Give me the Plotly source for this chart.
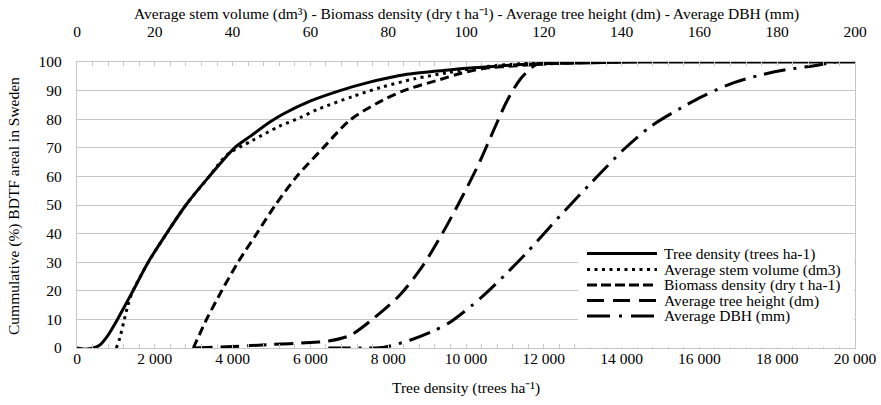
import plotly.graph_objects as go

# ---------------- data ----------------
# Tree density on bottom axis (trees ha-1)
td_x = [0, 200, 420, 600, 800, 1000, 1200, 1440, 1830, 2300, 2800, 3400, 4050, 4450,
        4960, 5300, 5990, 6760, 7450, 8480, 9680, 10450, 11300, 12160, 13500, 15000, 20000]
td_y = [0, -0.4, 0, 1.2, 4.5, 9, 14, 20, 30, 40, 50, 60, 70, 74,
        79, 81.8, 86.3, 90, 92.7, 95.7, 97.4, 98.2, 99, 99.5, 99.8, 100, 100]

# Average stem volume (dm3) on top axis
sv_x = [10.1, 11.0, 12.0, 13.0, 14.2, 15.5, 18.3, 23.0, 28.0, 34.0, 38.5, 45.0, 52.0,
        57.3, 62.0, 71.0, 78.3, 87.0, 95.5, 104.5, 113.0, 125.0, 140.0]
sv_y = [0, 3.5, 9, 14.5, 19.5, 23, 30, 40, 50, 60, 67.5, 72.5, 77.5,
        80.5, 83.5, 88, 91.2, 94.2, 96.3, 98.3, 99.3, 99.8, 100]

# Biomass density (dry t ha-1) on top axis
bd_x = [29.9, 33.3, 37.2, 41.4, 46.2, 51.0, 56.5, 63.3, 70.0, 77.0, 84.0, 93.4,
        98.5, 104.5, 113.0, 121.6, 135.0]
bd_y = [0, 10, 20, 30, 40, 50, 60, 70, 79.5, 85.5, 90, 93.9,
        96, 97.7, 98.7, 99.4, 100]

# Average tree height (dm) on top axis
th_x = [29.9, 40.0, 49.6, 60.0, 65.0, 70.2, 76.2, 83.0, 89.0, 94.2, 99.3, 103.6,
        107.0, 110.5, 113.9, 117.4, 119.5]
th_y = [0, 0.5, 1.2, 1.9, 2.5, 4.4, 10.3, 18.5, 29, 40.7, 53.6, 65.3,
        75.8, 86.3, 93.9, 98.6, 100]

# Average DBH (mm) on top axis
dbh_x = [64.6, 75.0, 79.0, 85.6, 91.2, 95.9, 103.8, 110.0, 115.4, 121.7, 125.4, 132.0,
         135.9, 140.6, 147.5, 156.0, 160.8, 168.9, 175.3, 181.8, 190.4, 193.0, 195.0]
dbh_y = [0, 0, 0.3, 2.7, 5.7, 9, 17.5, 25.5, 33, 42.5, 48, 57.5,
         63, 69.5, 77.5, 84.5, 88, 92.8, 95.3, 97.2, 98.9, 99.6, 100]

bottom_ticks = [0, 2000, 4000, 6000, 8000, 10000, 12000, 14000, 16000, 18000, 20000]
bottom_labels = ["0", "2 000", "4 000", "6 000", "8 000", "10 000", "12 000",
                 "14 000", "16 000", "18 000", "20 000"]
top_ticks = [0, 20, 40, 60, 80, 100, 120, 140, 160, 180, 200]
y_ticks = [0, 10, 20, 30, 40, 50, 60, 70, 80, 90, 100]

names = ["Tree density (trees ha-1)", "Average stem volume (dm3)",
         "Biomass density (dry t ha-1)", "Average tree height (dm)", "Average DBH (mm)"]

# ---------------- styles ----------------
FONT = "Liberation Serif"
FS = 15.5
GRID = "#c6c6c6"
dashes = ["solid", "3px,4.5px", "9px,5px", "19px,8px", "22px,8px,3px,8px"]
leg_dashes = ["solid", "3px,4.5px", "10px,4px", "17px,9px", "23px,9px,3px,9px"]

# plot area on screen (pixels); body margin is removed after rendering
W, H = 881, 405
SL, ST, SR, SB = 77, 62, 855, 348
L, T, R, B = SL, ST, W - SR, H - SB
PW, PH = SR - SL, SB - ST


def px(xp):
    return (xp - SL) / PW


def py(yp):
    return (SB - yp) / PH


fig = go.Figure()
series = [(td_x, td_y, "x"), (sv_x, sv_y, "x2"), (bd_x, bd_y, "x2"),
          (th_x, th_y, "x2"), (dbh_x, dbh_y, "x2")]
for i, (xs, ys, ax) in enumerate(series):
    fig.add_trace(go.Scatter(
        x=xs, y=ys, xaxis=ax, yaxis="y", mode="lines", name=names[i],
        line=dict(color="black", width=3, dash=dashes[i], shape="spline", smoothing=0.8),
        showlegend=False, hoverinfo="skip"))

fig.update_layout(
    width=W, height=H, margin=dict(l=L, r=R, t=T, b=B, autoexpand=False),
    paper_bgcolor="white", plot_bgcolor="white",
    font=dict(family=FONT, size=FS, color="black"),
    showlegend=False,
    xaxis=dict(range=[0, 20000], tickvals=bottom_ticks, ticktext=bottom_labels,
               automargin=False,
               showgrid=False, zeroline=False, showline=True, linecolor=GRID, linewidth=1.3,
               ticks="inside", ticklen=4, tickcolor=GRID, tickwidth=1,
               minor=dict(dtick=400, tick0=0, ticks="inside", ticklen=4, tickcolor=GRID, showgrid=False),
               ticklabelstandoff=-4, tickfont=dict(family=FONT, size=FS)),
    xaxis2=dict(range=[0, 200], overlaying="x", side="top", anchor="y",
                tickvals=top_ticks, ticktext=[str(t) for t in top_ticks],
                automargin=False,
                showgrid=False, zeroline=False, showline=True, linecolor=GRID, linewidth=1.3,
                ticks="inside", ticklen=4, tickcolor=GRID, tickwidth=1,
                minor=dict(dtick=4, tick0=0, ticks="inside", ticklen=4, tickcolor=GRID, showgrid=False),
                ticklabelstandoff=18, tickfont=dict(family=FONT, size=FS)),
    yaxis=dict(range=[0, 100], tickvals=y_ticks, ticktext=[str(t) for t in y_ticks],
               automargin=False,
               showgrid=True, gridcolor=GRID, gridwidth=1.3, zeroline=False,
               showline=True, linecolor=GRID, linewidth=1.3, mirror=True,
               ticks="outside", ticklen=7, tickcolor="rgba(0,0,0,0)",
               ticksuffix="\u00a0\u00a0", ticklabelstandoff=4,
               tickfont=dict(family=FONT, size=FS)),
)

ann = [
    dict(text="Average stem volume (dm\u00b3) - Biomass density (dry t ha\u207b\u00b9) - "
              "Average tree height (dm) - Average DBH (mm)",
         x=px(466), y=py(14), xanchor="center", yanchor="middle"),
    dict(text="Tree density (trees ha\u207b\u00b9)", x=px(466), y=py(388),
         xanchor="center", yanchor="middle"),
    dict(text="Cummulative (%) BDTF areal in Sweden", x=px(14), y=py(206), textangle=-90,
         xanchor="center", yanchor="middle"),
]

shapes = [dict(type="rect", xref="paper", yref="paper", x0=px(578), x1=px(854),
               y0=py(347), y1=py(242), fillcolor="white", line=dict(width=0), layer="above")]
rows = [253.5, 269.5, 285, 300.5, 316]
for i, name in enumerate(names):
    shapes.append(dict(type="line", xref="paper", yref="paper", x0=px(587), x1=px(657),
                       y0=py(rows[i]), y1=py(rows[i]),
                       line=dict(color="black", width=3, dash=leg_dashes[i]), layer="above"))
    ann.append(dict(text=name, x=px(662), y=py(rows[i]), xanchor="left", yanchor="middle"))

for a in ann:
    a.update(xref="paper", yref="paper", showarrow=False, font=dict(family=FONT, size=FS, color="black"))

fig.update_layout(annotations=ann, shapes=shapes)
fig.write_html("out.html", config={"displayModeBar": False},
               post_script="document.body.style.margin='0px';document.body.style.overflow='hidden';")
